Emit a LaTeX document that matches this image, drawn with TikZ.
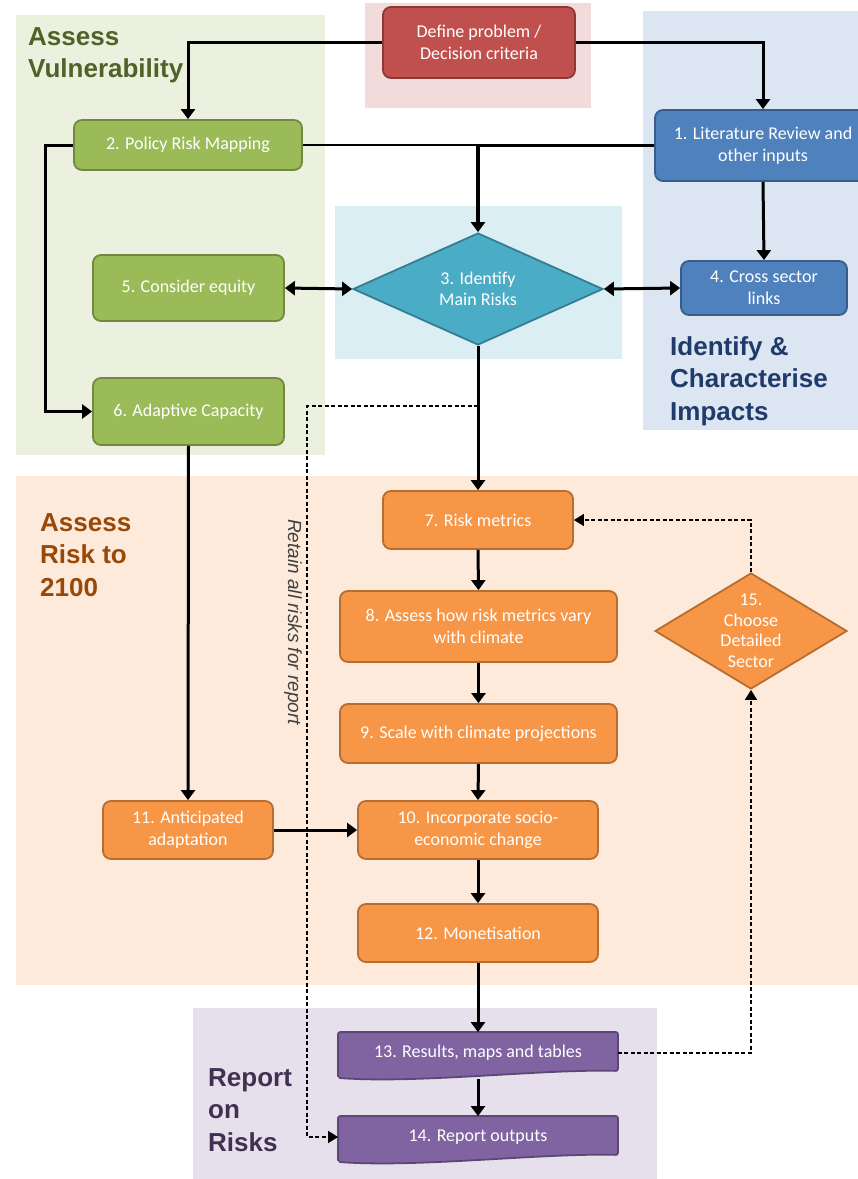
\documentclass[tikz,border=0pt]{standalone}
\usepackage{fontspec}
\setmainfont{Carlito}
\newfontfamily\titlefont{Liberation Sans}
\usetikzlibrary{shapes.geometric,arrows.meta,calc}
\pgfdeclarelayer{regions}
\pgfdeclarelayer{docs}
\pgfsetlayers{regions,docs,main}
\definecolor{rG}{HTML}{EBF1DE}
\definecolor{rR}{HTML}{F2DCDB}
\definecolor{rB}{HTML}{DCE6F2}
\definecolor{rC}{HTML}{DAEEF3}
\definecolor{rO}{HTML}{FDEADA}
\definecolor{rP}{HTML}{E5E0EC}
\definecolor{cG}{HTML}{9BBB59}
\definecolor{cGd}{HTML}{71893F}
\definecolor{cR}{HTML}{C0504D}
\definecolor{cRd}{HTML}{8C3836}
\definecolor{cB}{HTML}{4F81BD}
\definecolor{cBd}{HTML}{385D8A}
\definecolor{cC}{HTML}{4BACC6}
\definecolor{cCd}{HTML}{357D91}
\definecolor{cO}{HTML}{F79646}
\definecolor{cOd}{HTML}{B66D31}
\definecolor{cP}{HTML}{8064A2}
\definecolor{cPd}{HTML}{5C4776}
\definecolor{tG}{HTML}{4F6228}
\definecolor{tB}{HTML}{1F3B6B}
\definecolor{tO}{HTML}{984807}
\definecolor{tP}{HTML}{3F3151}
\definecolor{tGray}{HTML}{404040}
\begin{document}
\begin{tikzpicture}[x=1pt,y=-1pt,
  box/.style={rectangle, rounded corners=8pt, line width=1.8pt, text=white, align=center, inner sep=0pt, font=\fontsize{18}{22}\selectfont},
  gbox/.style={box, fill=cG, draw=cGd},
  rbox/.style={box, fill=cR, draw=cRd},
  bbox/.style={box, fill=cB, draw=cBd},
  obox/.style={box, fill=cO, draw=cOd},
  pbox/.style={box, draw=none, fill=none},
  dia/.style={diamond, line width=1.8pt, inner sep=0pt},
  lbl/.style={text=white, align=center, font=\fontsize{18}{20.5}\selectfont},
  arr/.style={line width=3pt, -{Triangle[width=14pt,length=10pt]}},
  darr/.style={line width=3pt, {Triangle[width=14pt,length=10pt]}-{Triangle[width=14pt,length=10pt]}},
  dsh/.style={line width=1.5pt, dash pattern=on 4pt off 2.5pt, -{Triangle[width=12pt,length=10pt]}},
  ttl/.style={font=\titlefont\bfseries\fontsize{26}{32.5}\selectfont, align=left, inner sep=0pt, anchor=north west},
]
\useasboundingbox (0,0) rectangle (858,1179);
\begin{pgfonlayer}{regions}
\fill[white] (0,0) rectangle (858,1179);
\fill[rG] (16,15) rectangle (325,455);
\fill[rR] (365,3) rectangle (591,108);
\fill[rB] (643,11) rectangle (858,430);
\fill[rC] (335,206) rectangle (622,359);
\fill[rO] (16,476) rectangle (858,985);
\fill[rP] (193,1008) rectangle (657,1179);
\end{pgfonlayer}

% titles
\node[ttl, text=tG] (tVul) at (28,27) {Assess\\Vulnerability};
\node[ttl, text=tB] (tImp) at (670,336) {Identify \&\\Characterise\\Impacts};
\node[ttl, text=tO] (tRisk) at (40,513) {Assess\\Risk to\\2100};
\node[ttl, text=tP] (tRep) at (208,1068) {Report\\on\\Risks};

% nodes
\node[rbox, minimum width=192, minimum height=71] (def) at (479,42.5) {Define problem /\\Decision criteria};
\node[gbox, minimum width=228, minimum height=50] (n2) at (188,145) {2. Policy Risk Mapping};
\node[bbox, minimum width=216, minimum height=71] (n1) at (763,145.5) {1. Literature Review and\\other inputs};
\node[gbox, minimum width=191, minimum height=66] (n5) at (188.5,288) {5. Consider equity};
\node[gbox, minimum width=191, minimum height=67] (n6) at (188.5,411.5) {6. Adaptive Capacity};
\node[dia, fill=cC, draw=cCd, minimum width=250, minimum height=112,
  label={[lbl]center:{3. Identify\\Main Risks}}] (n3) at (478,289) {};
\node[bbox, minimum width=166, minimum height=54] (n4) at (764,288) {4. Cross sector\\links};
\node[obox, minimum width=190, minimum height=58] (n7) at (478,520) {7. Risk metrics};
\node[obox, minimum width=277, minimum height=71] (n8) at (478.5,626.5) {8. Assess how risk metrics vary\\with climate};
\node[obox, minimum width=277, minimum height=59] (n9) at (478.5,733.5) {9. Scale with climate projections};
\node[obox, minimum width=240, minimum height=58] (n10) at (478,830) {10. Incorporate socio-\\economic change};
\node[obox, minimum width=170, minimum height=58] (n11) at (188,830) {11. Anticipated\\adaptation};
\node[obox, minimum width=240, minimum height=58] (n12) at (478,933) {12. Monetisation};
\node[pbox, minimum width=278, minimum height=40] (n13) at (478,1053) {13. Results, maps and tables};
\node[pbox, minimum width=278, minimum height=40] (n14) at (478,1137) {14. Report outputs};
\node[dia, fill=cO, draw=cOd, minimum width=192, minimum height=116,
  label={[lbl]center:{15.\\Choose\\Detailed\\Sector}}] (n15) at (751,631) {};

\begin{pgfonlayer}{docs}
\foreach \n in {n13,n14}
  \filldraw[fill=cP, draw=cPd, line width=1.8pt, rounded corners=2pt]
    (\n.north west) -- (\n.north east) -- ($(\n.south east)+(0,-3)$)
    .. controls ($(\n.south east)+(-77,-5)$) and ($(\n.south west)+(80,10)$) ..
    ($(\n.south west)+(0,4)$) -- cycle;
\end{pgfonlayer}

\node[rotate=-90, font=\titlefont\itshape\fontsize{19}{22}\selectfont, text=tGray, inner sep=0pt] (ret) at (293,622) {Retain all risks for report};

% connectors
\draw[arr] (def.west) -| (n2.north);
\draw[arr] (def.east) -| (n1.north);
\draw[line width=2pt] (n2.east) -- (n2.east -| n3.north);
\draw[arr, line width=3.5pt] (n1.west) -| (n3.north);
\draw[arr] (n2.west) -- ++(-28,0) |- (n6.west);
\draw[darr] (n5.east) -- (n3.west);
\draw[darr] (n3.east) -- (n4.west);
\draw[arr] (n1.south) -- (n4.north);
\draw[arr] (n3.south) -- (n7.north);
\draw[arr] (n7.south) -- (n8.north);
\draw[arr] (n8.south) -- (n9.north);
\draw[arr] (n9.south) -- (n10.north);
\draw[arr] (n10.south) -- (n12.north);
\draw[arr] (n12.south) -- (n13.north);
\draw[arr] ($(n13.south)+(0,5)$) -- (n14.north);
\draw[arr] (n6.south) -- (n11.north);
\draw[arr] (n11.east) -- (n10.west);
\coordinate (dc) at (307,406);
\coordinate (dj) at (n3.south |- dc);
\draw[dsh] (dj) -- (dc) |- (n14.west);
\draw[dsh] (n13.east) -| (n15.south);
\draw[dsh] (n15.north) |- (n7.east);
\end{tikzpicture}
\end{document}
